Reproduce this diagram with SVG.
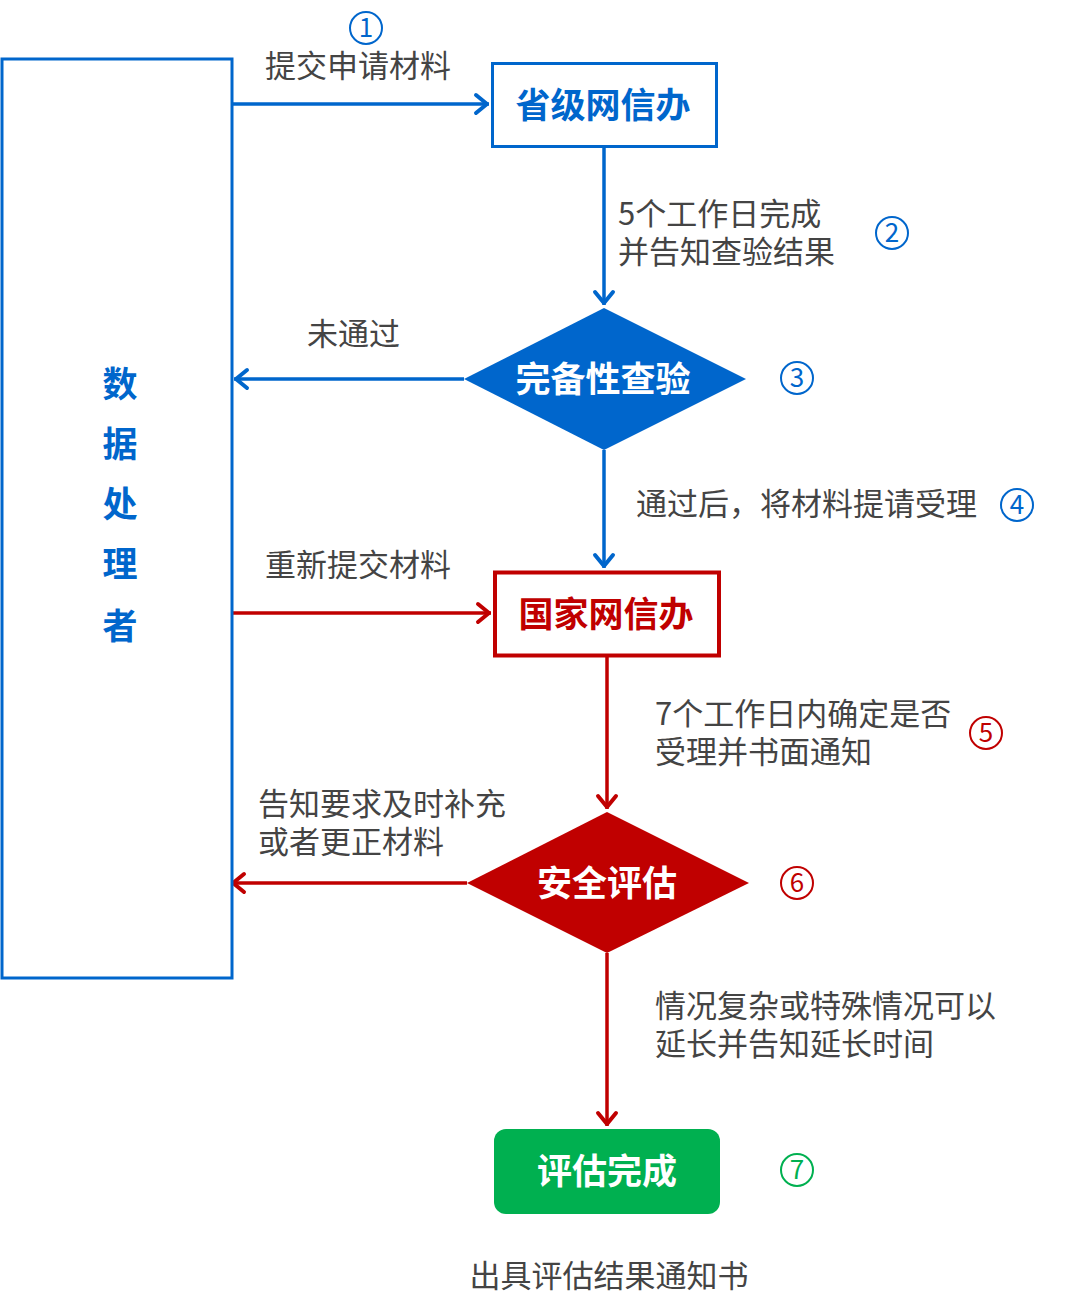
<svg xmlns="http://www.w3.org/2000/svg" width="1080" height="1303" viewBox="0 0 1080 1303">
<style>
text{font-family:"Noto Sans CJK SC","Noto Sans",sans-serif}
.lbl{font-size:31px;fill:#444}
.ttl{font-size:35px;font-weight:bold}
.num{font-size:26px}
.bl{stroke:#0066CC;stroke-width:3.5;fill:none}
.rd{stroke:#C00000;stroke-width:3.5;fill:none}
</style>
<defs>
<marker id="ab" markerUnits="userSpaceOnUse" markerWidth="30" markerHeight="30" refX="2" refY="0" viewBox="-16 -15 20 30" orient="auto" overflow="visible">
<path d="M-11,-9 L0,0 L-11,9" fill="none" stroke="#0066CC" stroke-width="4" stroke-linecap="round" stroke-linejoin="round"/>
</marker>
<marker id="ar" markerUnits="userSpaceOnUse" markerWidth="30" markerHeight="30" refX="2" refY="0" viewBox="-16 -15 20 30" orient="auto" overflow="visible">
<path d="M-11,-9 L0,0 L-11,9" fill="none" stroke="#C00000" stroke-width="4" stroke-linecap="round" stroke-linejoin="round"/>
</marker>
</defs>
<rect width="1080" height="1303" fill="#fff"/>
<g id="connectors">
<line class="bl" x1="233" y1="104" x2="489" y2="104" marker-end="url(#ab)"/>
<line class="bl" x1="604" y1="147" x2="604" y2="305" marker-end="url(#ab)"/>
<line class="bl" x1="464" y1="379" x2="234" y2="379" marker-end="url(#ab)"/>
<line class="bl" x1="604" y1="450" x2="604" y2="568" marker-end="url(#ab)"/>
<line class="rd" x1="233" y1="613" x2="491" y2="613" marker-end="url(#ar)"/>
<line class="rd" x1="607" y1="656" x2="607" y2="809" marker-end="url(#ar)"/>
<line class="rd" x1="467" y1="883" x2="231" y2="883" marker-end="url(#ar)"/>
<line class="rd" x1="607" y1="953" x2="607" y2="1126" marker-end="url(#ar)"/>
</g>
<g id="labels">
<text class="lbl" x="265" y="77">提交申请材料</text>
<text class="lbl" x="618" y="225">5个工作日完成<tspan x="618" y="263">并告知查验结果</tspan></text>
<text class="lbl" x="307" y="345">未通过</text>
<text class="lbl" x="636" y="515">通过后，将材料提请受理</text>
<text class="lbl" x="265" y="576">重新提交材料</text>
<text class="lbl" x="655" y="725">7个工作日内确定是否<tspan x="655" y="763">受理并书面通知</tspan></text>
<text class="lbl" x="258" y="815">告知要求及时补充<tspan x="258" y="853">或者更正材料</tspan></text>
<text class="lbl" x="655" y="1017">情况复杂或特殊情况可以<tspan x="655" y="1055">延长并告知延长时间</tspan></text>
<text class="lbl" x="609" y="1287" text-anchor="middle">出具评估结果通知书</text>
</g>
<g id="steps" fill="none" stroke-width="2">
<g id="s1"><circle cx="366" cy="28" r="16" stroke="#0066CC"/><text class="num" x="366" y="37" text-anchor="middle" fill="#0066CC" stroke="none">1</text></g>
<g id="s2"><circle cx="892" cy="233" r="16" stroke="#0066CC"/><text class="num" x="892" y="242" text-anchor="middle" fill="#0066CC" stroke="none">2</text></g>
<g id="s3"><circle cx="797" cy="378" r="16" stroke="#0066CC"/><text class="num" x="797" y="387" text-anchor="middle" fill="#0066CC" stroke="none">3</text></g>
<g id="s4"><circle cx="1017" cy="505" r="16" stroke="#0066CC"/><text class="num" x="1017" y="514" text-anchor="middle" fill="#0066CC" stroke="none">4</text></g>
<g id="s5"><circle cx="986" cy="733" r="16" stroke="#C00000"/><text class="num" x="986" y="742" text-anchor="middle" fill="#C00000" stroke="none">5</text></g>
<g id="s6"><circle cx="797" cy="883" r="16" stroke="#C00000"/><text class="num" x="797" y="892" text-anchor="middle" fill="#C00000" stroke="none">6</text></g>
<g id="s7"><circle cx="797" cy="1170" r="16" stroke="#00B050"/><text class="num" x="797" y="1179" text-anchor="middle" fill="#00B050" stroke="none">7</text></g>
</g>
<g id="processor">
<rect x="2" y="59" width="230" height="919" fill="#fff" stroke="#0066CC" stroke-width="3"/>
<g class="ttl" fill="#0066CC" text-anchor="middle">
<text x="120" y="397">数</text>
<text x="120" y="457">据</text>
<text x="120" y="517">处</text>
<text x="120" y="577">理</text>
<text x="120" y="639">者</text>
</g>
</g>
<g id="provincial">
<rect x="492.5" y="63.5" width="224" height="83" fill="#fff" stroke="#0066CC" stroke-width="3"/>
<text class="ttl" x="603" y="118" text-anchor="middle" fill="#0066CC">省级网信办</text>
</g>
<g id="check">
<polygon points="604,308 746,379 604,450 464,379" fill="#0066CC"/>
<text class="ttl" x="603" y="392" text-anchor="middle" fill="#fff">完备性查验</text>
</g>
<g id="national">
<rect x="495" y="572.5" width="224" height="83" fill="#fff" stroke="#C00000" stroke-width="4"/>
<text class="ttl" x="606" y="627" text-anchor="middle" fill="#C00000">国家网信办</text>
</g>
<g id="assess">
<polygon points="607,812 749,883 607,953 467,883" fill="#C00000"/>
<text class="ttl" x="607" y="896" text-anchor="middle" fill="#fff">安全评估</text>
</g>
<g id="done">
<rect x="494" y="1129" width="226" height="85" rx="12" fill="#00B050"/>
<text class="ttl" x="607" y="1184" text-anchor="middle" fill="#fff">评估完成</text>
</g>
</svg>
